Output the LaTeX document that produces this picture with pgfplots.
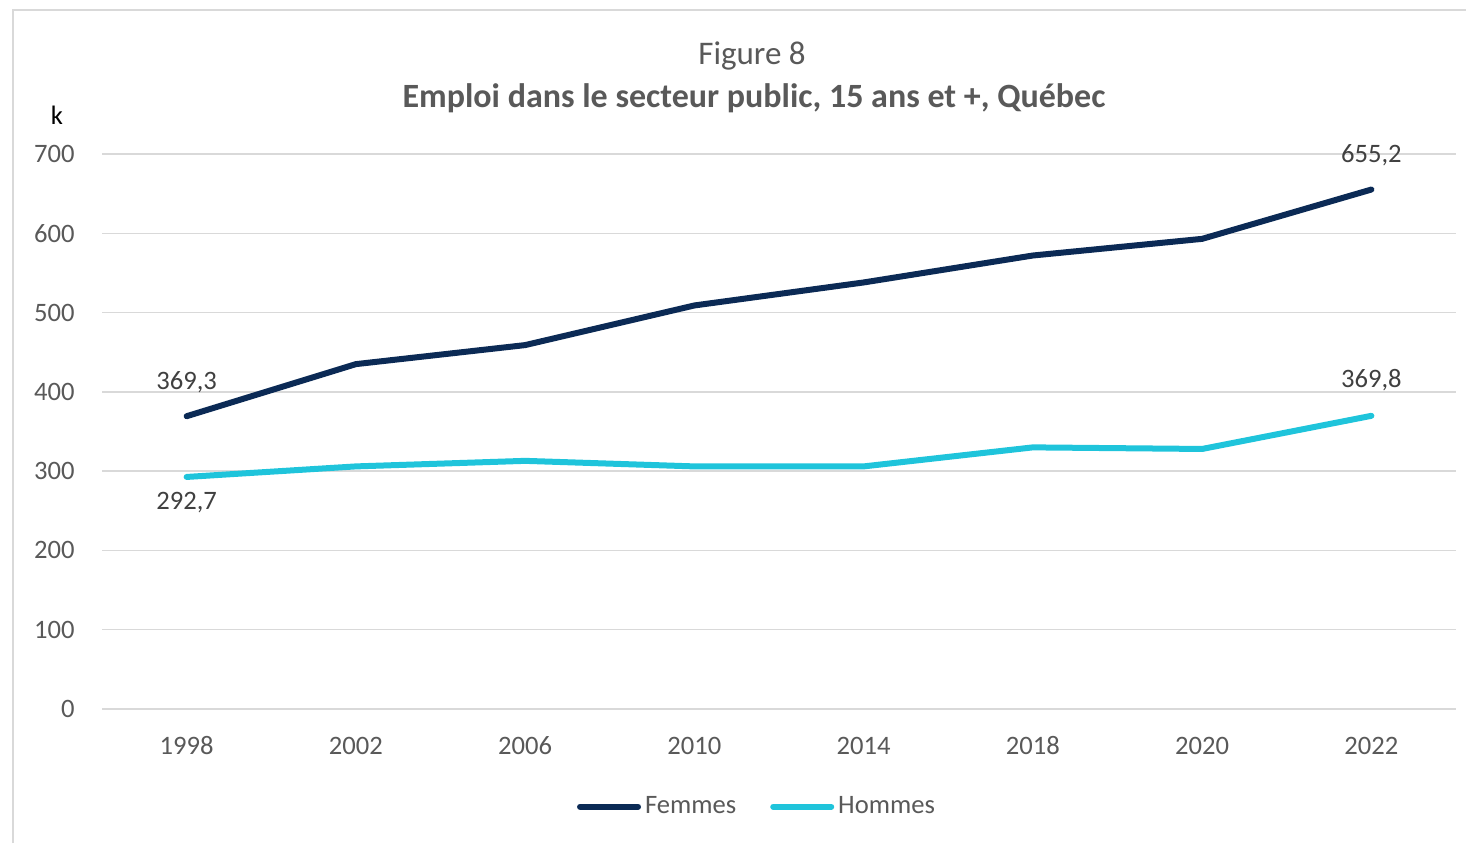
\documentclass[border=0pt]{standalone}
\usepackage{pgfplots}
\pgfplotsset{compat=1.18}
\usepackage{fontspec}
\setmainfont{Carlito}
\definecolor{navy}{HTML}{0B2A55}
\definecolor{cyanl}{HTML}{1FC4DB}
\definecolor{gridc}{HTML}{D9D9D9}
\definecolor{txt}{HTML}{595959}
\definecolor{lab}{HTML}{404040}
\begin{document}
\begin{tikzpicture}
\useasboundingbox (0,0) rectangle (733pt,-421.5pt);
\draw[gridc, line width=1pt] (6.5pt,-421.5pt) -- (6.5pt,-5pt) -- (733pt,-5pt);
\node[txt, font=\fontsize{16.5pt}{20pt}\selectfont] at (376pt,-28pt) {Figure 8};
\node[txt, font=\fontsize{17pt}{20pt}\selectfont\bfseries] at (377pt,-49pt) {Emploi dans le secteur public, 15 ans et +, Québec};
\node[black, font=\fontsize{13.3pt}{16pt}\selectfont] at (28.5pt,-57.5pt) {k};
\begin{axis}[
  at={(51pt,-354.5pt)}, anchor=south west,
  scale only axis, width=677pt, height=277.5pt,
  xmin=-0.5, xmax=7.5, ymin=0, ymax=700,
  xtick={0,...,7},
  xticklabels={1998,2002,2006,2010,2014,2018,2020,2022},
  ytick={0,100,...,700},
  ymajorgrids, major grid style={gridc, line width=0.75pt},
  axis line style={draw=none},
  major tick length=0pt,
  tick label style={txt, font=\fontsize{13.3pt}{16pt}\selectfont},
  /pgf/number format/assume math mode=true,
  xticklabel style={anchor=base, inner sep=0pt, yshift=-22.5pt},
  yticklabel style={anchor=east, inner sep=0pt, xshift=-13.5pt},
  clip=false,
  legend style={at={(0.4845,-0.176)}, anchor=center, draw=none, fill=none,
    font=\fontsize{13.3pt}{16pt}\selectfont, text=txt,
    /tikz/every even column/.append style={column sep=15pt}},
  legend columns=2,
  legend image code/.code={\draw[#1, line width=3pt, line cap=round] (0pt,0pt) -- (29pt,0pt);},
]
\addplot[navy, line width=3pt, line cap=round, line join=round] coordinates {
(0,369.3) (1,435) (2,459) (3,509) (4,538) (5,572) (6,593) (7,655.2)};
\addlegendentry{Femmes}
\addplot[cyanl, line width=3pt, line cap=round, line join=round] coordinates {
(0,292.7) (1,306) (2,313) (3,306) (4,306) (5,330) (6,328) (7,369.8)};
\addlegendentry{Hommes}
\node[lab, font=\fontsize{13.3pt}{16pt}\selectfont, above=11.5pt, inner sep=0pt] at (axis cs:0,369.3) {369,3};
\node[lab, font=\fontsize{13.3pt}{16pt}\selectfont, below=7.5pt, inner sep=0pt] at (axis cs:0,292.7) {292,7};
\node[lab, font=\fontsize{13.3pt}{16pt}\selectfont, above=11.5pt, inner sep=0pt] at (axis cs:7,655.2) {655,2};
\node[lab, font=\fontsize{13.3pt}{16pt}\selectfont, above=12.5pt, inner sep=0pt] at (axis cs:7,369.8) {369,8};
\end{axis}
\end{tikzpicture}
\end{document}
